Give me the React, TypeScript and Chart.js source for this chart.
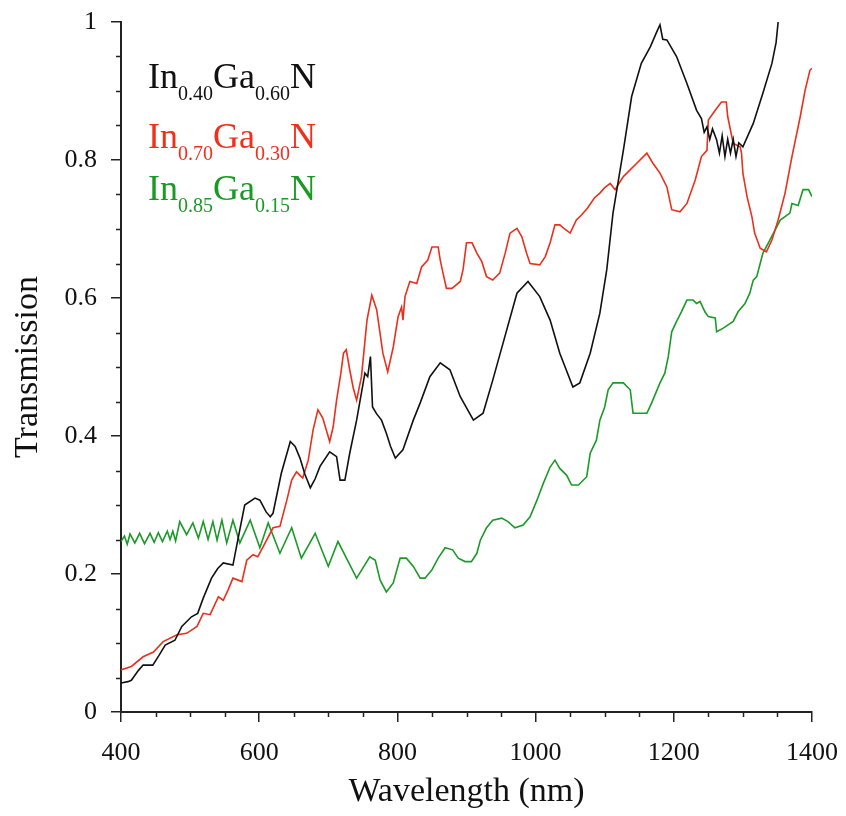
import React, { useEffect, useRef } from "react";
import { Chart, registerables } from "chart.js";

Chart.register(...registerables);

// ---- Data (wavelength in nm, transmission) ----
const blackX = [400, 410, 415, 425, 432, 446, 455, 464, 478, 488, 502, 511, 519, 531, 540, 548, 562, 569, 579, 594, 601, 610, 616, 620, 632, 645, 652, 659, 666, 674, 681, 688, 702, 712, 717, 724, 731, 741, 753, 757, 761, 764, 770, 777, 784, 790, 797, 808, 823, 833, 847, 862, 876, 891, 910, 924, 938, 953, 973, 989, 1006, 1021, 1035, 1054, 1064, 1079, 1093, 1103, 1112, 1127, 1139, 1153, 1166, 1175, 1180, 1184, 1190, 1204, 1219, 1233, 1240, 1244, 1248, 1252, 1256, 1262, 1266, 1270, 1274, 1278, 1282, 1286, 1290, 1294, 1300, 1315, 1329, 1342, 1348, 1351];
const blackY = [0.042, 0.044, 0.046, 0.06, 0.068, 0.068, 0.082, 0.097, 0.104, 0.124, 0.138, 0.143, 0.165, 0.194, 0.208, 0.216, 0.213, 0.249, 0.3, 0.31, 0.307, 0.29, 0.283, 0.288, 0.346, 0.392, 0.385, 0.368, 0.345, 0.325, 0.338, 0.356, 0.377, 0.37, 0.336, 0.336, 0.375, 0.423, 0.491, 0.486, 0.515, 0.442, 0.432, 0.423, 0.404, 0.385, 0.368, 0.38, 0.423, 0.448, 0.486, 0.506, 0.496, 0.457, 0.423, 0.433, 0.481, 0.535, 0.607, 0.624, 0.602, 0.568, 0.52, 0.471, 0.477, 0.52, 0.578, 0.641, 0.723, 0.814, 0.892, 0.94, 0.964, 0.985, 0.996, 0.975, 0.974, 0.95, 0.911, 0.872, 0.86, 0.84, 0.848, 0.83, 0.845, 0.829, 0.81, 0.835, 0.805, 0.83, 0.81, 0.83, 0.805, 0.825, 0.819, 0.853, 0.897, 0.94, 0.97, 1.0];

const redX = [400, 415, 432, 447, 461, 481, 495, 510, 519, 529, 541, 548, 555, 562, 575, 582, 591, 598, 606, 620, 630, 640, 647, 654, 663, 671, 678, 685, 692, 702, 707, 712, 718, 722, 726, 731, 736, 741, 748, 756, 763, 770, 779, 786, 794, 801, 806, 808, 811, 818, 828, 835, 844, 850, 859, 862, 866, 871, 879, 891, 895, 900, 908, 915, 922, 929, 938, 948, 956, 963, 973, 980, 987, 992, 1006, 1014, 1021, 1028, 1035, 1042, 1050, 1059, 1066, 1075, 1085, 1093, 1100, 1108, 1115, 1127, 1146, 1161, 1170, 1180, 1190, 1197, 1209, 1219, 1231, 1240, 1248, 1250, 1260, 1269, 1276, 1278, 1286, 1296, 1298, 1300, 1306, 1313, 1317, 1325, 1334, 1342, 1351, 1361, 1371, 1383, 1390, 1397, 1400];
const redY = [0.061, 0.066, 0.08, 0.087, 0.102, 0.112, 0.114, 0.124, 0.143, 0.141, 0.167, 0.162, 0.177, 0.194, 0.189, 0.22, 0.228, 0.225, 0.24, 0.267, 0.269, 0.307, 0.336, 0.348, 0.339, 0.365, 0.409, 0.438, 0.426, 0.392, 0.413, 0.452, 0.49, 0.52, 0.525, 0.496, 0.47, 0.452, 0.486, 0.568, 0.604, 0.583, 0.52, 0.493, 0.529, 0.573, 0.587, 0.568, 0.602, 0.624, 0.621, 0.645, 0.655, 0.674, 0.674, 0.655, 0.636, 0.614, 0.614, 0.624, 0.641, 0.68, 0.68, 0.665, 0.653, 0.631, 0.626, 0.636, 0.665, 0.694, 0.701, 0.689, 0.665, 0.65, 0.648, 0.66, 0.68, 0.706, 0.706, 0.7, 0.694, 0.713, 0.72, 0.73, 0.745, 0.752, 0.76, 0.766, 0.757, 0.776, 0.795, 0.81, 0.795, 0.781, 0.761, 0.728, 0.725, 0.737, 0.771, 0.805, 0.814, 0.858, 0.872, 0.884, 0.884, 0.863, 0.824, 0.819, 0.81, 0.781, 0.747, 0.718, 0.694, 0.672, 0.667, 0.684, 0.713, 0.752, 0.805, 0.863, 0.901, 0.93, 0.933];

const greenX = [400, 405, 409, 413, 420, 427, 434, 442, 448, 454, 460, 467, 471, 475, 479, 485, 495, 504, 512, 519, 526, 533, 539, 546, 553, 562, 572, 587, 601, 613, 630, 647, 661, 681, 700, 714, 741, 760, 768, 775, 784, 794, 804, 813, 823, 833, 840, 850, 859, 869, 880, 888, 898, 907, 915, 920, 929, 938, 951, 960, 970, 982, 992, 1002, 1011, 1021, 1028, 1035, 1045, 1052, 1062, 1074, 1079, 1088, 1093, 1100, 1105, 1112, 1127, 1137, 1141, 1161, 1168, 1180, 1187, 1192, 1197, 1204, 1211, 1219, 1228, 1233, 1238, 1245, 1250, 1260, 1262, 1271, 1286, 1293, 1303, 1310, 1315, 1320, 1325, 1329, 1339, 1354, 1368, 1371, 1380, 1387, 1395, 1400];
const greenY = [0.247, 0.255, 0.243, 0.258, 0.245, 0.259, 0.244, 0.259, 0.246, 0.26, 0.247, 0.262, 0.25, 0.262, 0.248, 0.276, 0.257, 0.274, 0.252, 0.276, 0.25, 0.276, 0.249, 0.278, 0.245, 0.278, 0.245, 0.278, 0.238, 0.274, 0.23, 0.267, 0.223, 0.259, 0.211, 0.247, 0.194, 0.225, 0.22, 0.191, 0.174, 0.187, 0.223, 0.223, 0.211, 0.194, 0.194, 0.206, 0.223, 0.238, 0.235, 0.223, 0.218, 0.218, 0.23, 0.249, 0.267, 0.278, 0.281, 0.276, 0.267, 0.271, 0.283, 0.307, 0.331, 0.355, 0.365, 0.353, 0.343, 0.329, 0.329, 0.341, 0.375, 0.394, 0.423, 0.442, 0.467, 0.477, 0.477, 0.467, 0.433, 0.433, 0.448, 0.477, 0.491, 0.515, 0.551, 0.566, 0.58, 0.597, 0.597, 0.592, 0.595, 0.58, 0.573, 0.571, 0.551, 0.556, 0.566, 0.58, 0.592, 0.607, 0.626, 0.631, 0.65, 0.665, 0.684, 0.713, 0.723, 0.737, 0.734, 0.757, 0.757, 0.747];

const seriesNames = ["In0.40Ga0.60N", "In0.70Ga0.30N", "In0.85Ga0.15N"];
const seriesColors = ["#111111", "#e8301c", "#1c9a28"];
const legendTextColors = ["#111111", "#f0301a", "#1a9a24"];
// legend parts: [text, isSubscript]
const legendParts: [string, boolean][][] = [
  [["In", false], ["0.40", true], ["Ga", false], ["0.60", true], ["N", false]],
  [["In", false], ["0.70", true], ["Ga", false], ["0.30", true], ["N", false]],
  [["In", false], ["0.85", true], ["Ga", false], ["0.15", true], ["N", false]],
];

const xTitle = "Wavelength (nm)";
const yTitle = "Transmission";
const xMin = 400, xMax = 1400, xMajor = 200, xMinor = 50;
const yMin = 0, yMax = 1, yMajor = 0.2, yMinor = 0.05;

const FONT = '"Liberation Serif", "Times New Roman", serif';

const toPoints = (xs: number[], ys: number[]) => xs.map((x, i) => ({ x, y: ys[i] }));

const minorTicksPlugin = {
  id: "minorTicks",
  afterDraw(chart: any) {
    const { ctx, scales } = chart;
    const xs = scales.x, ys = scales.y;
    ctx.save();
    ctx.strokeStyle = "#222";
    ctx.lineWidth = 1.5;
    ctx.beginPath();
    for (let v = yMin; v <= yMax + 1e-9; v += yMinor) {
      const r = v / yMajor;
      if (Math.abs(r - Math.round(r)) < 1e-6) continue;
      const py = Math.round(ys.getPixelForValue(v)) + 0.5;
      ctx.moveTo(chart.chartArea.left - 5, py);
      ctx.lineTo(chart.chartArea.left, py);
    }
    for (let v = xMin; v <= xMax; v += xMinor) {
      if (v % xMajor === 0) continue;
      const px = Math.round(xs.getPixelForValue(v)) + 0.5;
      ctx.moveTo(px, chart.chartArea.bottom);
      ctx.lineTo(px, chart.chartArea.bottom + 5);
    }
    ctx.stroke();

    // legend
    const rows = [88, 148, 200];
    const startX = 148;
    legendParts.forEach((parts, i) => {
      let x = startX;
      ctx.fillStyle = legendTextColors[i];
      ctx.textBaseline = "alphabetic";
      ctx.textAlign = "left";
      parts.forEach(([t, sub]) => {
        ctx.font = sub ? `20px ${FONT}` : `36px ${FONT}`;
        ctx.fillText(t, x, rows[i] + (sub ? 12 : 0));
        x += ctx.measureText(t).width;
      });
    });
    ctx.restore();
  },
};

export default function App() {
  const ref = useRef<HTMLCanvasElement | null>(null);
  useEffect(() => {
    document.body.style.margin = "0";
    const canvas = ref.current;
    if (!canvas) return;
    const chart = new Chart(canvas, {
      type: "line",
      data: {
        datasets: [
          { label: seriesNames[0], data: toPoints(blackX, blackY), borderColor: seriesColors[0], borderWidth: 1.6, pointRadius: 0, tension: 0 },
          { label: seriesNames[1], data: toPoints(redX, redY), borderColor: seriesColors[1], borderWidth: 1.6, pointRadius: 0, tension: 0 },
          { label: seriesNames[2], data: toPoints(greenX, greenY), borderColor: seriesColors[2], borderWidth: 1.6, pointRadius: 0, tension: 0 },
        ],
      },
      options: {
        animation: false,
        responsive: false,
        devicePixelRatio: 1,
        layout: { padding: { left: 0, top: 22, right: 34, bottom: 0 } },
        plugins: { legend: { display: false }, tooltip: { enabled: false } },
        scales: {
          x: {
            type: "linear",
            min: xMin,
            max: xMax,
            afterFit: (s: any) => { s.height = 104; s.paddingLeft = 0; s.paddingRight = 0; },
            ticks: {
              stepSize: xMajor,
              color: "#111",
              font: { family: FONT, size: 26 },
              padding: 16,
              maxRotation: 0,
              callback: (v: any) => String(v),
            },
            grid: { display: true, drawOnChartArea: false, drawTicks: true, tickLength: 10, color: "#222", lineWidth: 1.5 },
            border: { display: true, color: "#222", width: 2 },
            title: { display: true, text: xTitle, color: "#111", font: { family: FONT, size: 34 }, padding: { top: 0, bottom: 4 } },
          },
          y: {
            type: "linear",
            min: yMin,
            max: yMax,
            afterFit: (s: any) => { s.width = 121; s.paddingTop = 0; s.paddingBottom = 0; },
            ticks: {
              stepSize: yMajor,
              color: "#111",
              font: { family: FONT, size: 26 },
              padding: 14,
              callback: (v: any) => String(Number(Number(v).toFixed(1))),
            },
            grid: { display: true, drawOnChartArea: false, drawTicks: true, tickLength: 10, color: "#222", lineWidth: 1.5 },
            border: { display: true, color: "#222", width: 2 },
            title: { display: true, text: yTitle, color: "#111", font: { family: FONT, size: 34 }, padding: { top: 8, bottom: 0 } },
          },
        },
      },
      plugins: [minorTicksPlugin],
    });
    return () => chart.destroy();
  }, []);
  return (
    <div style={{ width: 846, height: 816, background: "#fff" }}>
      <canvas ref={ref} width={846} height={816} style={{ display: "block" }} />
    </div>
  );
}
